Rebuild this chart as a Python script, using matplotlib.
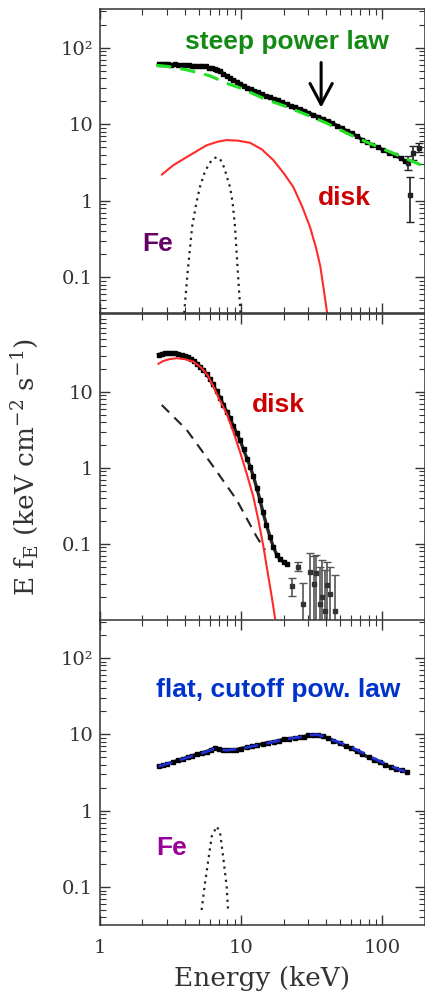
import numpy as np
import matplotlib.pyplot as plt
from matplotlib.ticker import LogLocator, NullFormatter

plt.rcParams['font.family'] = 'DejaVu Serif'
plt.rcParams['mathtext.fontset'] = 'dejavuserif'

# ---- top panel: steep power law state ----
e_top = [2.6, 2.75, 2.9, 3.05, 3.2, 3.4, 3.6, 3.8, 4.0, 4.25, 4.5, 4.75, 5.0, 5.3,
         5.6, 5.9, 6.2, 6.5, 6.8, 7.1, 7.5, 7.9, 8.3, 8.8, 9.3, 9.8, 10.4, 11.0,
         11.7, 12.4, 13.2, 14.0, 15.0, 16.0, 17.0, 18.2, 19.5, 21.0, 22.5, 24.0,
         26.0, 28.0, 30.0, 32.5, 35.0, 38.0, 41.0, 44.0, 48.0, 52.0, 56.0, 61.0,
         66.0, 72.0, 78.0, 85.0, 93.0, 102.0, 112.0, 123.0, 135.0, 145.0]
f_top = [62, 61, 62, 61, 60, 61, 60, 59, 60, 59, 58, 58, 57, 58,
         57, 55, 54, 52, 51, 49, 46, 43, 40, 38, 36, 34, 32, 30,
         28.5, 27, 26, 24.5, 23.5, 22.5, 21.5, 20.5, 19.3, 18.5, 17.5, 16.8,
         15.8, 15.0, 14.2, 13.3, 12.6, 11.8, 11.0, 10.4, 9.6, 8.9, 8.2, 7.6,
         7.0, 6.3, 5.8, 5.4, 5.0, 4.6, 4.2, 3.9, 3.6, 3.3]
e_top_err = [153, 158, 166, 181]
f_top_err = [3.1, 1.2, 4.2, 4.9]
lo_top_err = [2.5, 0.53, 3.4, 4.3]
hi_top_err = [3.8, 2.05, 5.2, 5.6]

e_pl = [2.5, 3, 4, 5, 6, 8, 10, 15, 20, 30, 40, 60, 80, 100, 150, 200]
f_pl = [59, 57, 52, 47, 43, 34, 29.5, 21, 17.5, 13, 10.4, 7.2, 5.7, 4.8, 3.5, 2.8]

e_disk_top = [2.75, 3.3, 4.1, 5.0, 5.7, 6.8, 7.9, 9.5, 11.6, 14.0, 16.9, 20.0,
              23.4, 27.0, 30.7, 34.0, 36.4, 38.5, 40.6]
f_disk_top = [2.2, 2.9, 3.7, 4.6, 5.3, 5.9, 6.2, 6.1, 5.7, 4.7, 3.4, 2.3,
              1.52, 0.85, 0.46, 0.24, 0.139, 0.07, 0.035]

e_fe_top = [3.95, 4.2, 4.5, 4.8, 5.1, 5.5, 5.9, 6.3, 6.7, 7.1, 7.6, 8.1, 8.35,
            8.7, 9.05, 9.4, 9.9]
f_fe_top = [0.034, 0.13, 0.46, 0.9, 1.5, 2.3, 3.0, 3.5, 3.7, 3.5, 2.7, 1.8, 1.5,
            0.95, 0.46, 0.15, 0.034]

# ---- middle panel: disk dominated state ----
e_mid = [2.6, 2.75, 2.9, 3.05, 3.2, 3.4, 3.6, 3.8, 4.0, 4.2, 4.4, 4.65, 4.9,
         5.12, 5.4, 5.7, 6.0, 6.3, 6.7, 7.1, 7.5, 7.9, 8.36, 8.8, 9.3, 9.85,
         10.4, 11.0, 11.6, 12.2, 12.9, 13.6, 14.3, 15.1, 16.0, 16.9, 17.9, 18.9,
         20.0, 21.2]
f_mid = [31, 32, 32.5, 32.5, 32.6, 32.3, 31.5, 30.5, 29.5, 28.5, 27.5, 25.5, 23.5,
         21.5, 19.5, 17.3, 14.8, 12.6, 10.3, 8.4, 6.8, 5.5, 4.5, 3.6, 2.9, 2.3,
         1.75, 1.33, 1.04, 0.78, 0.55, 0.38, 0.26, 0.18, 0.125, 0.092, 0.072, 0.063,
         0.058, 0.055]
e_mid_err = [23.0, 25.4, 27.5, 30.7, 33.0, 34.1, 36.0, 37.5, 39.0, 40.6, 43.0, 46.0]
f_mid_err = [0.028, 0.050, 0.016, 0.043, 0.030, 0.042, 0.016, 0.020, 0.013, 0.029,
             0.022, 0.013]
lo_mid_err = [0.021, 0.044, 0.005, 0.005, 0.005, 0.005, 0.005, 0.005, 0.005, 0.005,
              0.005, 0.005]
hi_mid_err = [0.036, 0.058, 0.031, 0.076, 0.070, 0.072, 0.050, 0.062, 0.045, 0.058,
              0.050, 0.039]

e_disk_mid = [2.6, 2.8, 3.1, 3.5, 4.0, 4.6, 5.2, 5.8, 6.4, 7.0, 7.9, 8.8, 9.85,
              11.0, 12.2, 13.3, 14.4, 15.5, 16.5, 17.4]
f_disk_mid = [23.5, 25.5, 27, 27.8, 27, 25, 21, 16.5, 11.5, 8.0, 5.2, 3.0, 1.6,
              0.82, 0.42, 0.2, 0.092, 0.04, 0.02, 0.0106]

e_pl_mid = [2.74, 4.12, 6.36, 9.3, 12.9, 14.8]
f_pl_mid = [6.74, 3.16, 1.04, 0.38, 0.124, 0.083]

# ---- bottom panel: hard state ----
e_bot = [2.6, 2.8, 3.0, 3.3, 3.6, 3.9, 4.2, 4.5, 4.9, 5.3, 5.7, 6.1, 6.5, 7.0,
         7.5, 8.0, 8.6, 9.2, 10.0, 11.0, 12.0, 13.0, 14.2, 15.5, 17.0, 18.5,
         20.0, 22.0, 24.0, 26.0, 28.0, 30.0, 32.5, 35.0, 38.0, 41.0, 45.0, 50.0,
         55.0, 60.0, 66.0, 72.0, 80.0, 88.0, 96.0, 105.0, 115.0, 125.0, 137.0, 150.0]
f_bot = [3.8, 3.95, 4.1, 4.35, 4.6, 4.8, 5.05, 5.25, 5.5, 5.75, 5.95, 6.3, 6.6, 6.4,
         6.2, 6.2, 6.25, 6.3, 6.5, 6.8, 7.0, 7.2, 7.5, 7.8, 8.0, 8.3,
         8.6, 8.8, 9.0, 9.1, 9.3, 9.8, 9.9, 9.8, 9.4, 9.0, 8.3, 7.6,
         7.0, 6.6, 6.0, 5.5, 5.0, 4.6, 4.3, 4.0, 3.7, 3.5, 3.4, 3.2]

e_cpl = [2.6, 3.5, 4.5, 5.5, 6.3, 7.0, 8.0, 10.0, 13.0, 17.0, 22.0, 26.0, 30.0,
         35.0, 42.0, 50.0, 60.0, 75.0, 90.0, 110.0, 130.0, 150.0]
f_cpl = [3.8, 4.5, 5.2, 5.8, 6.4, 6.3, 6.2, 6.5, 7.2, 8.0, 8.8, 9.2, 9.8,
         9.9, 8.8, 7.8, 6.8, 5.6, 4.7, 4.0, 3.5, 3.2]

e_fe_bot = [5.25, 5.55, 5.86, 6.19, 6.72, 7.1, 7.5, 7.9, 8.1]
f_fe_bot = [0.05, 0.113, 0.228, 0.46, 0.623, 0.51, 0.228, 0.102, 0.046]

W, H = 425, 1002
fig = plt.figure(figsize=(W / 100, H / 100), dpi=100)


def panel(top_px, bot_px, ylim, yticks, ylabels, xlabels=False):
    ax = fig.add_axes([100 / W, 1 - bot_px / H, 325 / W, (bot_px - top_px) / H])
    ax.set_xscale('log')
    ax.set_yscale('log')
    ax.set_xlim(1, 201)
    ax.set_ylim(*ylim)
    ax.set_xticks([1, 10, 100])
    ax.set_xticklabels(['1', '10', '100'] if xlabels else [])
    ax.set_yticks(yticks)
    ax.set_yticklabels(ylabels)
    for axis in (ax.xaxis, ax.yaxis):
        axis.set_minor_locator(LogLocator(base=10, subs=np.arange(2, 10)))
        axis.set_minor_formatter(NullFormatter())
    ax.tick_params(which='both', direction='in', top=True, right=True,
                   color='#333333', labelcolor='#333333', labelsize=14)
    ax.tick_params(which='major', length=7.5, width=1.0)
    ax.tick_params(which='minor', length=4, width=0.8)
    ax.tick_params(axis='x', pad=10)
    ax.tick_params(axis='y', pad=5)
    for sp in ax.spines.values():
        sp.set_linewidth(1.1)
        sp.set_color('#333333')
    return ax


def data_band(ax, e, f, ms=3.2):
    # dense data points drawn as a thick band of squares
    ax.plot(e, f, '-', color='black', lw=2.4, alpha=0.85, zorder=3)
    ax.plot(e, f, 's', color='black', ms=ms, zorder=3)


bold = dict(family='Liberation Sans', fontweight='bold', fontsize=19)

# top
ax1 = panel(9, 313, (0.034, 321), [0.1, 1, 10, 100], ['0.1', '1', '10', '10²'])
data_band(ax1, e_top, f_top)
ax1.errorbar(e_top_err, f_top_err,
             yerr=[np.subtract(f_top_err, lo_top_err), np.subtract(hi_top_err, f_top_err)],
             fmt='s', color='#222222', ms=3, lw=1.2, capsize=3, zorder=3)
ax1.plot(e_pl, f_pl, ls=(0, (5, 3)), color='#22e022', lw=2.2, zorder=4)
ax1.plot(e_disk_top, f_disk_top, color='#ff2a2a', lw=1.5, zorder=2)
ax1.plot(e_fe_top, f_fe_top, ls=(0, (1, 2)), color='#222222', lw=1.6, zorder=2)
ax1.annotate('', xy=(36.9, 16.5), xytext=(36.9, 64),
             arrowprops=dict(arrowstyle='->,head_length=0.75,head_width=0.4',
                             lw=2.2, color='black', mutation_scale=20,
                             shrinkA=0, shrinkB=0))
ax1.text(21.2, 97, 'steep power law', color='#138a13', ha='center', va='baseline', **bold)
ax1.text(53.8, 0.887, 'disk', color='#cc0000', ha='center', va='baseline', **bold)
ax1.text(2.54, 0.218, 'Fe', color='#660066', ha='center', va='baseline', **bold)

# middle
ax2 = panel(314, 621, (0.0097, 106), [0.1, 1, 10], ['0.1', '1', '10'])
data_band(ax2, e_mid, f_mid)
ax2.errorbar(e_mid_err, f_mid_err,
             yerr=[np.subtract(f_mid_err, lo_mid_err), np.subtract(hi_mid_err, f_mid_err)],
             fmt='s', color='#333333', ecolor='#555555', ms=3, lw=1.2, capsize=3, zorder=3)
ax2.plot(e_disk_mid, f_disk_mid, color='#ff2a2a', lw=1.5, zorder=4)
ax2.plot(e_pl_mid, f_pl_mid, ls=(0, (5, 3.5)), color='#222222', lw=1.5, zorder=2)
ax2.text(18.3, 5.46, 'disk', color='#cc0000', ha='center', va='baseline', **bold)
ax2.set_ylabel('E f$_\\mathregular{E}$ (keV cm$^{-2}$ s$^{-1}$)', fontsize=19,
               color='#333333')
ax2.yaxis.set_label_coords(-0.18, 0.5)

# bottom
ax3 = panel(620, 925, (0.0318, 315), [0.1, 1, 10, 100], ['0.1', '1', '10', '10²'],
            xlabels=True)
data_band(ax3, e_bot, f_bot, ms=3.4)
ax3.plot(e_cpl, f_cpl, ls=(0, (5, 3)), color='#1f2fd0', lw=2.0, zorder=4)
ax3.plot(e_fe_bot, f_fe_bot, ls=(0, (1, 2)), color='#222222', lw=1.6, zorder=2)
ax3.text(18.3, 31.2, 'flat, cutoff pow. law', color='#0033cc', ha='center',
         va='baseline', **bold)
ax3.text(3.24, 0.265, 'Fe', color='#990099', ha='center', va='baseline', **bold)
ax3.set_xlabel('Energy (keV)', fontsize=19, color='#333333')
ax3.xaxis.set_label_coords(0.5, -0.135)

fig.savefig('out.png', dpi=100)
